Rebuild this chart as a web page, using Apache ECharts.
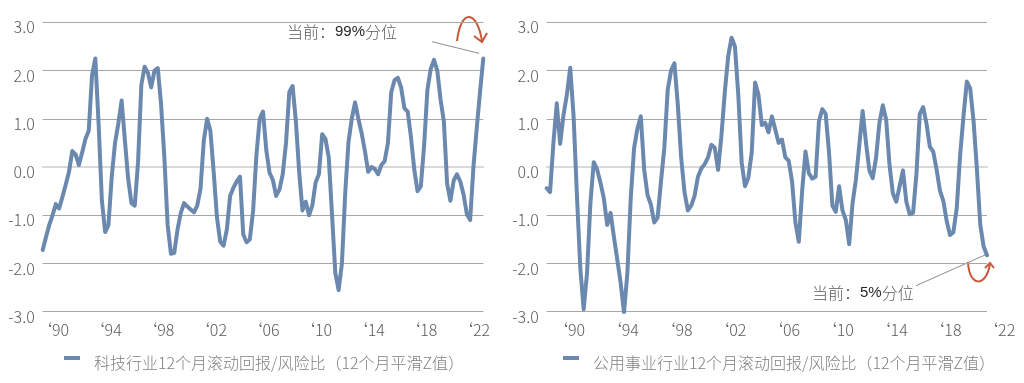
<!DOCTYPE html>
<html><head><meta charset="utf-8">
<script src="https://cdn.jsdelivr.net/npm/echarts/dist/echarts.min.js"></script>
<style>html,body{margin:0;padding:0;background:#fff}#c{width:1024px;height:383px}</style>
</head><body><div id="c"></div>
<script>
// ---- data ----
const techName = '科技行业12个月滚动回报/风险比（12个月平滑Z值）';
const utilName = '公用事业行业12个月滚动回报/风险比（12个月平滑Z值）';
const techStart = 1989.25, techStep = 0.25; // quarterly samples
const techValues = [
 -1.72,-1.45,-1.2,-1.0,-0.77,-0.86,-0.62,-0.37,-0.1,0.33,
 0.26,0.04,0.3,0.58,0.75,1.9,2.25,0.9,-0.7,-1.35,
 -1.2,-0.2,0.5,0.9,1.38,0.55,-0.25,-0.75,-0.8,0.1,
 1.7,2.08,1.95,1.65,2.0,2.05,1.3,0.2,-1.2,-1.8,
 -1.78,-1.3,-0.95,-0.75,-0.82,-0.88,-0.94,-0.8,-0.45,0.55,
 1.0,0.75,-0.1,-1.05,-1.55,-1.63,-1.3,-0.6,-0.43,-0.3,
 -0.2,-1.4,-1.56,-1.5,-0.9,0.25,1.0,1.15,0.35,-0.12,
 -0.27,-0.6,-0.47,-0.15,0.5,1.55,1.68,0.95,-0.1,-0.9,
 -0.72,-1.0,-0.8,-0.32,-0.15,0.68,0.58,0.2,-1.0,-2.2,
 -2.55,-2.0,-0.55,0.52,1.0,1.34,1.0,0.7,0.33,-0.1,
 0.0,-0.04,-0.15,0.04,0.12,0.5,1.55,1.8,1.85,1.65,
 1.22,1.15,0.62,-0.05,-0.5,-0.4,0.45,1.6,2.03,2.22,
 2.0,1.4,0.95,-0.35,-0.7,-0.28,-0.15,-0.3,-0.57,-0.98,
 -1.1,0.0,0.8,1.55,2.25
];
const utilStart = 1988.375, utilStep = 0.25; // quarterly samples
const utilValues = [
 -0.44,-0.52,0.5,1.32,0.48,1.08,1.5,2.06,1.05,-0.6,
 -2.1,-2.95,-2.2,-0.75,0.1,-0.05,-0.33,-0.65,-1.2,-0.95,
 -1.45,-1.92,-2.4,-3.02,-2.2,-0.65,0.39,0.8,1.05,-0.05,
 -0.58,-0.78,-1.15,-1.05,-0.3,0.4,1.6,2.0,2.15,1.3,
 0.2,-0.52,-0.9,-0.8,-0.6,-0.2,-0.03,0.06,0.2,0.46,
 0.4,-0.06,0.66,1.56,2.3,2.68,2.5,1.5,0.1,-0.4,
 -0.22,0.3,1.75,1.5,0.87,0.92,0.72,1.05,0.78,0.5,
 0.57,0.2,0.13,-0.3,-1.15,-1.55,-0.5,0.32,-0.13,-0.24,
 -0.2,0.95,1.2,1.1,0.3,-0.8,-0.93,-0.4,-0.9,-1.1,
 -1.6,-0.75,-0.26,0.45,1.16,0.5,-0.07,-0.23,0.2,0.92,
 1.28,0.98,0.04,-0.55,-0.72,-0.4,-0.07,-0.72,-0.98,-0.95,
 -0.15,1.1,1.24,0.9,0.42,0.32,-0.05,-0.49,-0.7,-1.12,
 -1.41,-1.35,-0.85,0.24,1.05,1.77,1.63,0.95,-0.05,-1.2,
 -1.65,-1.83
];
const yearTicks = [1990,1994,1998,2002,2006,2010,2014,2018,2022];
const techNote = ['当前：','99%','分位'];
const utilNote = ['当前：','5%','分位'];

// ---- chart ----
const LINE = '#6B88AE', LBL = '#595959', GRID = '#a6a6a6', ARROW = '#C8583C';
const FONT = "'Noto Sans CJK SC', sans-serif";
const chart = echarts.init(document.getElementById('c'), null, {renderer:'canvas'});
const yearFmt = v => '\u2018' + String(v).slice(2);
function yAx(g){
  return {gridIndex:g, type:'value', min:-3, max:3, interval:1,
    axisLine:{show:false}, axisTick:{show:false},
    splitLine:{show:true, lineStyle:{color:GRID, width:1}},
    axisLabel:{formatter:v=>'{v|'+v.toFixed(1)+'}', margin:8,
      rich:{v:{color:LBL, fontSize:16, fontFamily:FONT, fontWeight:300, padding:[10,0,0,0]}}}};
}
const xLabel = {customValues:yearTicks, formatter:yearFmt, color:LBL, fontSize:16, fontFamily:FONT, fontWeight:300, margin:10};
const legendBase = {icon:'rect', itemWidth:16, itemHeight:4, top:350,
  formatter: n => '{t|'+n+'}',
  textStyle:{rich:{t:{color:'#7f7f7f', fontSize:16, fontFamily:FONT, fontWeight:300, padding:[10,0,0,9]}}}};
const note = (parts, x, y) => ({type:'text', x:x, y:y, style:{
  text:'{a|'+parts[0]+'}{b|'+parts[1]+'}{a|'+parts[2]+'}',
  rich:{a:{fill:LBL, fontSize:16, fontFamily:FONT, fontWeight:300},
        b:{fill:'#262626', fontSize:15, fontFamily:"'Liberation Sans', sans-serif"}},
  verticalAlign:'middle'}});

chart.setOption({
  animation:false,
  grid:[
    {left:42.7, top:22.3, width:440.6, height:289.4},
    {left:546.7, top:22.3, width:440.3, height:289.4},
    {left:546.7, top:22.3, width:465.4, height:289.4}
  ],
  xAxis:[
    {gridIndex:0, type:'value', min:techStart, max:techStart+techStep*(techValues.length-1),
      axisLine:{show:true, lineStyle:{color:'#d9d9d9', width:2}}, axisTick:{show:false}, splitLine:{show:false}, axisLabel:xLabel},
    {gridIndex:1, type:'value', min:utilStart, max:utilStart+utilStep*(utilValues.length-1),
      axisLine:{show:true, lineStyle:{color:'#d9d9d9', width:2}}, axisTick:{show:false}, splitLine:{show:false}, axisLabel:{show:false}},
    {gridIndex:2, type:'value', min:utilStart, max:2023,
      axisLine:{show:false}, axisTick:{show:false}, splitLine:{show:false}, axisLabel:xLabel}
  ],
  yAxis:[yAx(0), yAx(1), {gridIndex:2, type:'value', min:-3, max:3, show:false}],
  legend:[
    Object.assign({}, legendBase, {data:[techName], left:59}),
    Object.assign({}, legendBase, {data:[utilName], left:558})
  ],
  series:[
    {type:'line', name:techName, xAxisIndex:0, yAxisIndex:0, showSymbol:false, symbol:'none',
      data:techValues.map((v,i)=>[techStart+i*techStep, v]),
      lineStyle:{color:LINE, width:4, cap:'round', join:'round'}, itemStyle:{color:LINE}},
    {type:'line', name:utilName, xAxisIndex:1, yAxisIndex:1, showSymbol:false, symbol:'none',
      data:utilValues.map((v,i)=>[utilStart+i*utilStep, v]),
      lineStyle:{color:LINE, width:4, cap:'round', join:'round'}, itemStyle:{color:LINE}}
  ],
  graphic:[
    note(techNote, 287, 32),
    note(utilNote, 812, 293),
    {type:'line', shape:{x1:432, y1:41.7, x2:479, y2:53.3}, style:{stroke:'#8c8c8c', lineWidth:1}},
    {type:'line', shape:{x1:916, y1:285.7, x2:985, y2:255}, style:{stroke:'#8c8c8c', lineWidth:1}},
    {type:'bezierCurve', shape:{x1:457, y1:41, cpx1:461, cpy1:8, cpx2:477, cpy2:10, x2:482, y2:41},
      style:{stroke:ARROW, lineWidth:2, fill:null}},
    {type:'polyline', shape:{points:[[474,36],[482,42],[487,33]]}, style:{stroke:ARROW, lineWidth:2, fill:null}},
    {type:'bezierCurve', shape:{x1:968, y1:262, cpx1:969, cpy1:287, cpx2:986, cpy2:288, x2:990, y2:264},
      style:{stroke:ARROW, lineWidth:2, fill:null}},
    {type:'polyline', shape:{points:[[985,268],[990,263],[994,268]]}, style:{stroke:ARROW, lineWidth:2, fill:null}}
  ]
});
</script></body></html>
